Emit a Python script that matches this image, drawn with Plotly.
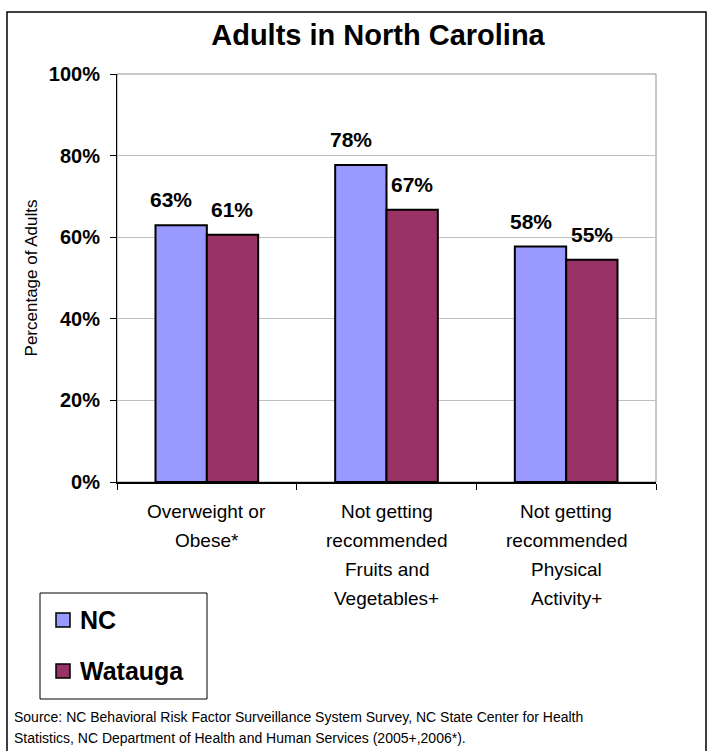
import plotly.graph_objects as go

categories = ["Overweight or\nObese*",
              "Not getting\nrecommended\nFruits and\nVegetables+",
              "Not getting\nrecommended\nPhysical\nActivity+"]
nc_values = [62.9, 77.7, 57.7]
watauga_values = [60.6, 66.7, 54.5]
nc_labels = ["63%", "78%", "58%"]
watauga_labels = ["61%", "67%", "55%"]
y_ticks = [0, 20, 40, 60, 80, 100]
y_tick_labels = ["0%", "20%", "40%", "60%", "80%", "100%"]
series_names = ["NC", "Watauga"]
series_colors = ["#9999FF", "#993366"]
title_text = "Adults in North Carolina"
y_title = "Percentage of Adults"
source_lines = ["Source: NC Behavioral Risk Factor Surveillance System Survey, NC State Center for Health",
                "Statistics, NC Department of Health and Human Services (2005+,2006*)."]

W, H = 707, 751
ML, MR, MT, MB = 117, 51, 74, 269
plot_w = W - ML - MR
plot_h = H - MT - MB
bargap = 1.5 / 3.5
bar_px = plot_w / len(categories) * (1 - bargap) / 2
FONT = "Liberation Sans, Arial, sans-serif"


def px_x(x):  # page pixel -> paper x
    return (x - ML) / plot_w


def px_y(y):  # page pixel -> paper y
    return (H - MB - y) / plot_h


fig = go.Figure()
for name, vals, col in zip(series_names, [nc_values, watauga_values], series_colors):
    fig.add_trace(go.Bar(x=categories, y=vals, name=name, showlegend=False,
                         marker=dict(color=col, line=dict(color="black", width=2))))

annotations = []
for vals, labs, sh in [(nc_values, nc_labels, -bar_px / 2 - 10), (watauga_values, watauga_labels, bar_px / 2)]:
    for c, v, t in zip(categories, vals, labs):
        annotations.append(dict(x=c, y=v, xref="x", yref="y", text=f"<b>{t}</b>",
                                showarrow=False, yanchor="bottom", xanchor="center",
                                xshift=sh, yshift=12,
                                font=dict(family=FONT, size=21, color="black")))

for c in categories:
    for i, line in enumerate(c.split("\n")):
        annotations.append(dict(x=c, y=0, xref="x", yref="paper", text=line,
                                showarrow=False, yanchor="middle", xanchor="center",
                                yshift=-(29 + 29 * i),
                                font=dict(family=FONT, size=19, color="black")))

for i, line in enumerate(source_lines):
    annotations.append(dict(x=px_x(12), y=px_y(717 + 21 * i), xref="paper", yref="paper", text=line,
                            showarrow=False, xanchor="left", yanchor="middle", align="left",
                            font=dict(family=FONT, size=14, color="black")))

shapes = [
    dict(type="rect", xref="paper", yref="paper", x0=0, x1=1, y0=0, y1=1,
         line=dict(color="#909090", width=1), layer="below"),
    dict(type="rect", xref="paper", yref="paper",
         x0=px_x(40), x1=px_x(207), y0=px_y(699), y1=px_y(593),
         line=dict(color="black", width=1)),
    dict(type="rect", xref="paper", yref="paper",
         x0=px_x(7), x1=px_x(706), y0=px_y(770), y1=px_y(12),
         line=dict(color="black", width=1.5)),
]
legend_y = [620, 671]
for name, col, ly in zip(series_names, series_colors, legend_y):
    shapes.append(dict(type="rect", xref="paper", yref="paper",
                       x0=px_x(56), x1=px_x(70), y0=px_y(ly + 7), y1=px_y(ly - 7),
                       fillcolor=col, line=dict(color="black", width=1.5)))
    annotations.append(dict(x=px_x(78), y=px_y(ly), xref="paper", yref="paper",
                            text=f"<b>{name}</b>", showarrow=False,
                            xanchor="left", yanchor="middle",
                            font=dict(family=FONT, size=25, color="black")))

fig.update_layout(
    width=W, height=H,
    margin=dict(l=ML, r=MR, t=MT, b=MB),
    paper_bgcolor="white", plot_bgcolor="white",
    barmode="group", bargap=bargap, bargroupgap=0,
    title=dict(text=f"<b>{title_text}</b>", x=378 / W, xanchor="center",
               y=1 - 35 / H, yanchor="middle",
               font=dict(family=FONT, size=29, color="black")),
    font=dict(family=FONT, color="black"),
    annotations=annotations,
    shapes=shapes,
    showlegend=False,
)

fig.update_yaxes(range=[0, 100], tickvals=y_ticks, ticktext=[f"<b>{t}</b>" for t in y_tick_labels],
                 tickfont=dict(family=FONT, size=20, color="black"),
                 showgrid=True, gridcolor="#c0c0c0", gridwidth=1,
                 showline=True, linecolor="black", linewidth=1,
                 ticks="outside", ticklen=6, tickcolor="black", ticklabelstandoff=6,
                 zeroline=False,
                 title=dict(text=y_title, font=dict(family=FONT, size=17, color="black"), standoff=6))
fig.update_xaxes(showticklabels=False, ticks="outside", tickson="boundaries", ticklen=6,
                 tickcolor="black", showline=True, linecolor="black", linewidth=1.5,
                 showgrid=False)

fig.write_html("out.html", config={"displayModeBar": False},
               post_script="document.body.style.margin='0';")
